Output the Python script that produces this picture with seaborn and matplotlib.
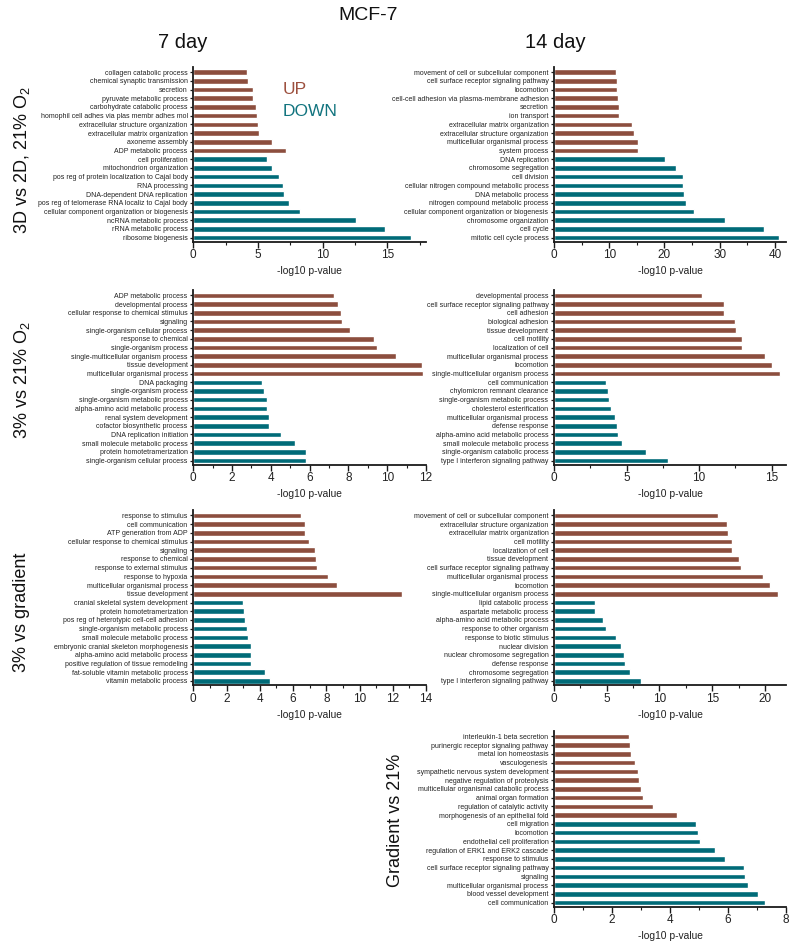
import numpy as np
import pandas as pd
import matplotlib
matplotlib.use("Agg")
import matplotlib.pyplot as plt
import seaborn as sns
from matplotlib.ticker import MultipleLocator

sns.set_theme(style="ticks")
plt.rcParams["font.family"] = ["Liberation Sans", "DejaVu Sans"]
plt.rcParams["mathtext.fontset"] = "custom"
plt.rcParams["mathtext.rm"] = "Liberation Sans"
plt.rcParams["mathtext.it"] = "Liberation Sans:italic"

UP_COLOR = "#8C4E3E"
DOWN_COLOR = "#006B78"
UP_TEXT = "#9C4F3D"
DOWN_TEXT = "#12747F"

# ---------------- data ----------------
# Panel A: 3D vs 2D, 21% O2, 7 day
a_up_terms = ["collagen catabolic process", "chemical synaptic transmission", "secretion",
              "pyruvate metabolic process", "carbohydrate catabolic process",
              "homophil cell adhes via plas membr adhes mol", "extracellular structure organization",
              "extracellular matrix organization", "axoneme assembly", "ADP metabolic process"]
a_up_vals = [4.13, 4.26, 4.6, 4.6, 4.86, 4.9, 5.04, 5.12, 6.1, 7.18]
a_down_terms = ["cell proliferation", "mitochondrion organization",
                "pos reg of protein localization to Cajal body", "RNA processing",
                "DNA-dependent DNA replication", "pos reg of telomerase RNA localiz to Cajal body",
                "cellular component organization or biogenesis", "ncRNA metabolic process",
                "rRNA metabolic process", "ribosome biogenesis"]
a_down_vals = [5.71, 6.12, 6.64, 6.9, 7.0, 7.42, 8.29, 12.58, 14.8, 16.85]

# Panel B: 3D vs 2D, 21% O2, 14 day
b_up_terms = ["movement of cell or subcellular component", "cell surface receptor signaling pathway",
              "locomotion", "cell-cell adhesion via plasma-membrane adhesion", "secretion",
              "ion transport", "extracellular matrix organization",
              "extracellular structure organization", "multicellular organismal process",
              "system process"]
b_up_vals = [11.15, 11.33, 11.33, 11.58, 11.7, 11.8, 14.18, 14.48, 15.15, 15.15]
b_down_terms = ["DNA replication", "chromosome segregation", "cell division",
                "cellular nitrogen compound metabolic process", "DNA metabolic process",
                "nitrogen compound metabolic process", "cellular component organization or biogenesis",
                "chromosome organization", "cell cycle", "mitotic cell cycle process"]
b_down_vals = [20.1, 22.06, 23.3, 23.3, 23.6, 23.9, 25.3, 31.0, 38.06, 40.67]

# Panel C: 3% vs 21% O2, 7 day
c_up_terms = ["ADP metabolic process", "developmental process",
              "cellular response to chemical stimulus", "signaling",
              "single-organism cellular process", "response to chemical",
              "single-organism process", "single-multicellular organism process",
              "tissue development", "multicellular organismal process"]
c_up_vals = [7.24, 7.45, 7.62, 7.66, 8.09, 9.31, 9.48, 10.43, 11.78, 11.87]
c_down_terms = ["DNA packaging", "single-organism process", "single-organism metabolic process",
                "alpha-amino acid metabolic process", "renal system development",
                "cofactor biosynthetic process", "DNA replication initiation",
                "small molecule metabolic process", "protein homotetramerization",
                "single-organism cellular process"]
c_down_vals = [3.53, 3.66, 3.79, 3.79, 3.88, 3.91, 4.52, 5.26, 5.79, 5.81]

# Panel D: 3% vs 21% O2, 14 day
d_up_terms = ["developmental process", "cell surface receptor signaling pathway", "cell adhesion",
              "biological adhesion", "tissue development", "cell motility", "localization of cell",
              "multicellular organismal process", "locomotion",
              "single-multicellular organism process"]
d_up_vals = [10.23, 11.7, 11.75, 12.5, 12.57, 12.95, 12.95, 14.52, 15.0, 15.57]
d_down_terms = ["cell communication", "chylomicron remnant clearance",
                "single-organism metabolic process", "cholesterol esterification",
                "multicellular organismal process", "defense response",
                "alpha-amino acid metabolic process", "small molecule metabolic process",
                "single-organism catabolic process", "type I interferon signaling pathway"]
d_down_vals = [3.57, 3.7, 3.8, 3.91, 4.2, 4.34, 4.43, 4.7, 6.32, 7.86]

# Panel E: 3% vs gradient, 7 day
e_up_terms = ["response to stimulus", "cell communication", "ATP generation from ADP",
              "cellular response to chemical stimulus", "signaling", "response to chemical",
              "response to external stimulus", "response to hypoxia",
              "multicellular organismal process", "tissue development"]
e_up_vals = [6.49, 6.71, 6.75, 6.94, 7.34, 7.36, 7.42, 8.08, 8.63, 12.53]
e_down_terms = ["cranial skeletal system development", "protein homotetramerization",
                "pos reg of heterotypic cell-cell adhesion", "single-organism metabolic process",
                "small molecule metabolic process", "embryonic cranial skeleton morphogenesis",
                "alpha-amino acid metabolic process", "positive regulation of tissue remodeling",
                "fat-soluble vitamin metabolic process", "vitamin metabolic process"]
e_down_vals = [3.02, 3.04, 3.1, 3.23, 3.31, 3.45, 3.47, 3.49, 4.33, 4.64]

# Panel F: 3% vs gradient, 14 day
f_up_terms = ["movement of cell or subcellular component", "extracellular structure organization",
              "extracellular matrix organization", "cell motility", "localization of cell",
              "tissue development", "cell surface receptor signaling pathway",
              "multicellular organismal process", "locomotion",
              "single-multicellular organism process"]
f_up_vals = [15.56, 16.38, 16.5, 16.9, 16.9, 17.5, 17.78, 19.8, 20.47, 21.28]
f_down_terms = ["lipid catabolic process", "aspartate metabolic process",
                "alpha-amino acid metabolic process", "response to other organism",
                "response to biotic stimulus", "nuclear division", "nuclear chromosome segregation",
                "defense response", "chromosome segregation", "type I interferon signaling pathway"]
f_down_vals = [3.88, 3.88, 4.63, 4.9, 5.88, 6.4, 6.6, 6.72, 7.19, 8.22]

# Panel G: Gradient vs 21%, 14 day
g_up_terms = ["interleukin-1 beta secretion", "purinergic receptor signaling pathway",
              "metal ion homeostasis", "vasculogenesis", "sympathetic nervous system development",
              "negative regulation of proteolysis", "multicellular organismal catabolic process",
              "animal organ formation", "regulation of catalytic activity",
              "morphogenesis of an epithelial fold"]
g_up_vals = [2.6, 2.63, 2.64, 2.81, 2.9, 2.92, 2.99, 3.07, 3.41, 4.25]
g_down_terms = ["cell migration", "locomotion", "endothelial cell proliferation",
                "regulation of ERK1 and ERK2 cascade", "response to stimulus",
                "cell surface receptor signaling pathway", "signaling",
                "multicellular organismal process", "blood vessel development", "cell communication"]
g_down_vals = [4.91, 4.97, 5.03, 5.54, 5.89, 6.55, 6.6, 6.68, 7.03, 7.27]

x_label = "-log10 p-value"
row_labels = ["3D vs 2D, 21% O$_2$", "3% vs 21% O$_2$", "3% vs gradient", "Gradient vs 21%"]
col_labels = ["7 day", "14 day"]
main_title = "MCF-7"

# ---------------- layout ----------------
W, H = 800, 948
fig = plt.figure(figsize=(W / 100, H / 100), dpi=100)

LEFT = (193.3, 426.0)
RIGHT = (554.0, 786.0)
ROWS = [(66.7, 241.7), (290.0, 464.5), (510.0, 685.0), (731.0, 906.7)]

panels = [
    (a_up_terms, a_up_vals, a_down_terms, a_down_vals, LEFT, ROWS[0], 18, 5, 2.5),
    (b_up_terms, b_up_vals, b_down_terms, b_down_vals, RIGHT, ROWS[0], 42, 10, 5),
    (c_up_terms, c_up_vals, c_down_terms, c_down_vals, LEFT, ROWS[1], 12, 2, 1),
    (d_up_terms, d_up_vals, d_down_terms, d_down_vals, RIGHT, ROWS[1], 16, 5, 2.5),
    (e_up_terms, e_up_vals, e_down_terms, e_down_vals, LEFT, ROWS[2], 14, 2, 1),
    (f_up_terms, f_up_vals, f_down_terms, f_down_vals, RIGHT, ROWS[2], 22, 5, 2.5),
    (g_up_terms, g_up_vals, g_down_terms, g_down_vals, RIGHT, ROWS[3], 8, 2, 1),
]

for up_t, up_v, dn_t, dn_v, (x0, x1), (y0, y1), xmax, major, minor in panels:
    ax = fig.add_axes([x0 / W, 1 - y1 / H, (x1 - x0) / W, (y1 - y0) / H])
    terms = up_t + dn_t
    df = pd.DataFrame({
        "pos": np.arange(len(terms)),
        "value": up_v + dn_v,
        "dir": ["UP"] * len(up_t) + ["DOWN"] * len(dn_t),
    })
    sns.barplot(data=df, x="value", y="pos", hue="dir", orient="h",
                palette={"UP": UP_COLOR, "DOWN": DOWN_COLOR}, dodge=False,
                width=0.64, saturation=1, legend=False, ax=ax)
    ax.set_yticks(np.arange(len(terms)))
    ax.set_yticklabels(terms)
    ax.set_ylim(len(terms) - 0.54, -0.62)
    ax.set_xlim(0, xmax)
    ax.xaxis.set_major_locator(MultipleLocator(major))
    ax.xaxis.set_minor_locator(MultipleLocator(minor))
    ax.set_ylabel("")
    ax.set_xlabel(x_label, fontsize=7.4, labelpad=3.5, color="#222222")
    sns.despine(ax=ax)
    for s in ("left", "bottom"):
        ax.spines[s].set_linewidth(1.3)
        ax.spines[s].set_color("#1a1a1a")
    ax.tick_params(axis="y", length=2.5, width=0.9, labelsize=5, pad=1.5,
                   color="#1a1a1a", labelcolor="#222222")
    ax.tick_params(axis="x", which="major", length=4, width=1.0, labelsize=8.5,
                   pad=1.5, color="#1a1a1a", labelcolor="#222222")
    ax.tick_params(axis="x", which="minor", length=2.2, width=0.8, color="#1a1a1a")
    ax.set_facecolor("white")

# legend text
fig.text(283 / W, 1 - 89 / H, "UP", color=UP_TEXT, fontsize=12.5, ha="left", va="center")
fig.text(283 / W, 1 - 111 / H, "DOWN", color=DOWN_TEXT, fontsize=12.5, ha="left", va="center")

# titles
fig.text(368 / W, 1 - 16 / H, main_title, fontsize=14, ha="center", va="center",
         color="#111111")
fig.text(183 / W, 1 - 43 / H, col_labels[0], fontsize=14.5, ha="center", va="center",
         color="#111111")
fig.text(555 / W, 1 - 43 / H, col_labels[1], fontsize=14.5, ha="center", va="center",
         color="#111111")

# row labels
row_pos = [(22, 160), (22, 380), (22, 612), (395, 820)]
for lab, (x, y) in zip(row_labels, row_pos):
    fig.text(x / W, 1 - y / H, lab, rotation=90, fontsize=13, ha="center", va="center",
             color="#111111")

fig.savefig("out.png", dpi=100, facecolor="white")
